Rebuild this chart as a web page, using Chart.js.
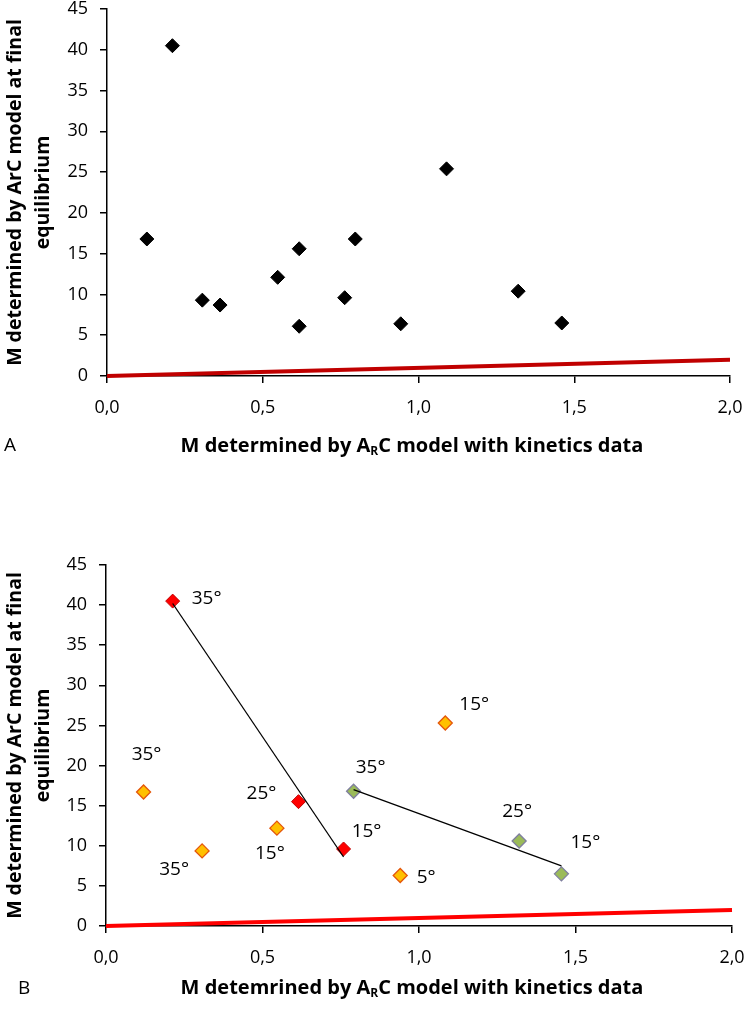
<!DOCTYPE html>
<html>
<head>
<meta charset="utf-8">
<script src="https://cdn.jsdelivr.net/npm/chart.js@4.4.1/dist/chart.umd.min.js"></script>
<style>
    body { margin: 0; background: #fff; width: 750px; height: 1018px; position: relative; overflow: hidden; font-family: "Open Sans", sans-serif; color: #000; }
    .panel { position: absolute; left: 0; width: 750px; }
    #wrapA { top: 0; height: 470px; }
    #wrapB { top: 480px; height: 538px; }
    .xtitle { position: absolute; left: 100px; width: 624px; text-align: center; font-weight: bold; font-size: 20px; line-height: 22px; }
    .xtitle sub { font-size: 12px; vertical-align: -3px; line-height: 0; }
    .tag { position: absolute; font-size: 19px; line-height: 20px; }
</style>
</head>
<body>
<div class="panel" id="wrapA"><canvas id="chartA"></canvas></div>
<div class="panel" id="wrapB"><canvas id="chartB"></canvas></div>
<div class="tag" style="left:4px; top:434px;">A</div>
<div class="xtitle" style="top:434px;">M determined by A<sub>R</sub>C model with kinetics data</div>
<div class="tag" style="left:18px; top:977px;">B</div>
<div class="xtitle" style="top:976px;">M detemrined by A<sub>R</sub>C model with kinetics data</div>
<script>
// Panel A: all measurements
const allX = [0.128, 0.21, 0.306, 0.363, 0.548, 0.617, 0.617, 0.797, 0.763, 1.09, 0.943, 1.32, 1.46];
const allY = [16.8, 40.5, 9.3, 8.7, 12.1, 15.6, 6.1, 16.8, 9.6, 25.4, 6.4, 10.4, 6.5];

// Panel B: grouped series with temperature labels
const redX = [0.213, 0.615, 0.759];
const redY = [40.5, 15.5, 9.6];
const redTemps = ['35°', '25°', '15°'];

const greenX = [0.791, 1.32, 1.455];
const greenY = [16.8, 10.6, 6.5];
const greenTemps = ['35°', '25°', '15°'];

const orangeX = [0.12, 0.307, 0.546, 1.084, 0.94];
const orangeY = [16.7, 9.36, 12.2, 25.3, 6.3];
const orangeTemps = ['35°', '35°', '15°', '15°', '5°'];

// trend lines (end points)
const redTrendX = [0.213, 0.759];
const redTrendY = [40.2, 8.6];
const greenTrendX = [0.791, 1.455];
const greenTrendY = [17.0, 7.5];

// 1:1 reference line
const refX = [0, 2];
const refY = [0, 2];

const yTitleLines = ['M determined by ArC model at final', 'equilibrium'];

function toPoints(xs, ys) {
    return xs.map((x, i) => ({ x: x, y: ys[i] }));
}

// draws the temperature text next to each point
const tempLabels = {
    id: 'tempLabels',
    afterDatasetsDraw(chart) {
        const ctx = chart.ctx;
        chart.data.datasets.forEach((ds, i) => {
            if (!ds.temps) return;
            const meta = chart.getDatasetMeta(i);
            ctx.save();
            ctx.font = '19px "Open Sans"';
            ctx.fillStyle = '#000';
            ctx.textAlign = 'center';
            ctx.textBaseline = 'middle';
            meta.data.forEach((pt, j) => {
                const off = ds.labelOffsets[j];
                ctx.fillText(ds.temps[j], pt.x + off[0], pt.y + off[1]);
            });
            ctx.restore();
        });
    }
};

function makeScales(yWidth, xHeight) {
    return {
        x: {
            type: 'linear',
            min: 0,
            max: 2,
            border: { color: '#000', width: 1.5 },
            grid: { drawOnChartArea: false, drawTicks: true, tickLength: 7, color: '#000', lineWidth: 1.5 },
            ticks: {
                stepSize: 0.5,
                color: '#000',
                padding: 14,
                font: { family: 'Open Sans', size: 18 },
                callback: function(value) {
                    return value.toFixed(1).replace('.', ',');
                }
            },
            afterFit: function(scale) {
                scale.height = xHeight;
                scale.paddingLeft = 0;
                scale.paddingRight = 0;
            }
        },
        y: {
            type: 'linear',
            min: 0,
            max: 45,
            border: { color: '#000', width: 1.5 },
            grid: { drawOnChartArea: false, drawTicks: true, tickLength: 7, color: '#000', lineWidth: 1.5 },
            ticks: {
                stepSize: 5,
                color: '#000',
                padding: 12,
                font: { family: 'Open Sans', size: 18 }
            },
            title: {
                display: true,
                text: yTitleLines,
                color: '#000',
                padding: { top: 1, bottom: 0 },
                font: { family: 'Open Sans', size: 19.5, weight: 'bold', lineHeight: '28px' }
            },
            afterFit: function(scale) {
                scale.width = yWidth;
                scale.paddingTop = 0;
                scale.paddingBottom = 0;
            }
        }
    };
}

const baseOptions = {
    responsive: true,
    maintainAspectRatio: false,
    animation: false,
    plugins: { legend: { display: false }, tooltip: { enabled: false } }
};

new Chart(document.getElementById('chartA'), {
    type: 'scatter',
    data: {
        datasets: [
            {
                type: 'line',
                data: toPoints(refX, refY),
                borderColor: '#c00000',
                borderWidth: 4,
                pointRadius: 0,
                clip: false
            },
            {
                data: toPoints(allX, allY),
                pointStyle: 'rectRot',
                pointRadius: 7,
                backgroundColor: '#000',
                borderColor: '#000',
                borderWidth: 1
            }
        ]
    },
    options: Object.assign({}, baseOptions, {
        layout: { padding: { top: 9, right: 20, left: 0, bottom: 0 } },
        scales: makeScales(107, 94)
    })
});

new Chart(document.getElementById('chartB'), {
    type: 'scatter',
    data: {
        datasets: [
            {
                type: 'line',
                data: toPoints(refX, refY),
                borderColor: '#ff0000',
                borderWidth: 4,
                pointRadius: 0,
                clip: false
            },
            {
                type: 'line',
                data: toPoints(redTrendX, redTrendY),
                borderColor: '#000',
                borderWidth: 1.3,
                pointRadius: 0
            },
            {
                type: 'line',
                data: toPoints(greenTrendX, greenTrendY),
                borderColor: '#000',
                borderWidth: 1.3,
                pointRadius: 0
            },
            {
                data: toPoints(redX, redY),
                temps: redTemps,
                labelOffsets: [[34, -3], [-37, -8], [23, -17]],
                pointStyle: 'rectRot',
                pointRadius: 7,
                backgroundColor: '#ff0000',
                borderColor: '#c00000',
                borderWidth: 1
            },
            {
                data: toPoints(greenX, greenY),
                temps: greenTemps,
                labelOffsets: [[17, -24], [-2, -29], [24, -31]],
                pointStyle: 'rectRot',
                pointRadius: 7,
                backgroundColor: '#9bbb59',
                borderColor: '#7f7f9f',
                borderWidth: 1.3
            },
            {
                data: toPoints(orangeX, orangeY),
                temps: orangeTemps,
                labelOffsets: [[3, -37], [-28, 19], [-7, 25], [29, -18], [26, 2]],
                pointStyle: 'rectRot',
                pointRadius: 7,
                backgroundColor: '#ffc000',
                borderColor: '#e4560a',
                borderWidth: 1.3
            }
        ]
    },
    options: Object.assign({}, baseOptions, {
        layout: { padding: { top: 85, right: 18, left: 0, bottom: 0 } },
        scales: makeScales(106, 92)
    }),
    plugins: [tempLabels]
});
</script>
</body>
</html>
